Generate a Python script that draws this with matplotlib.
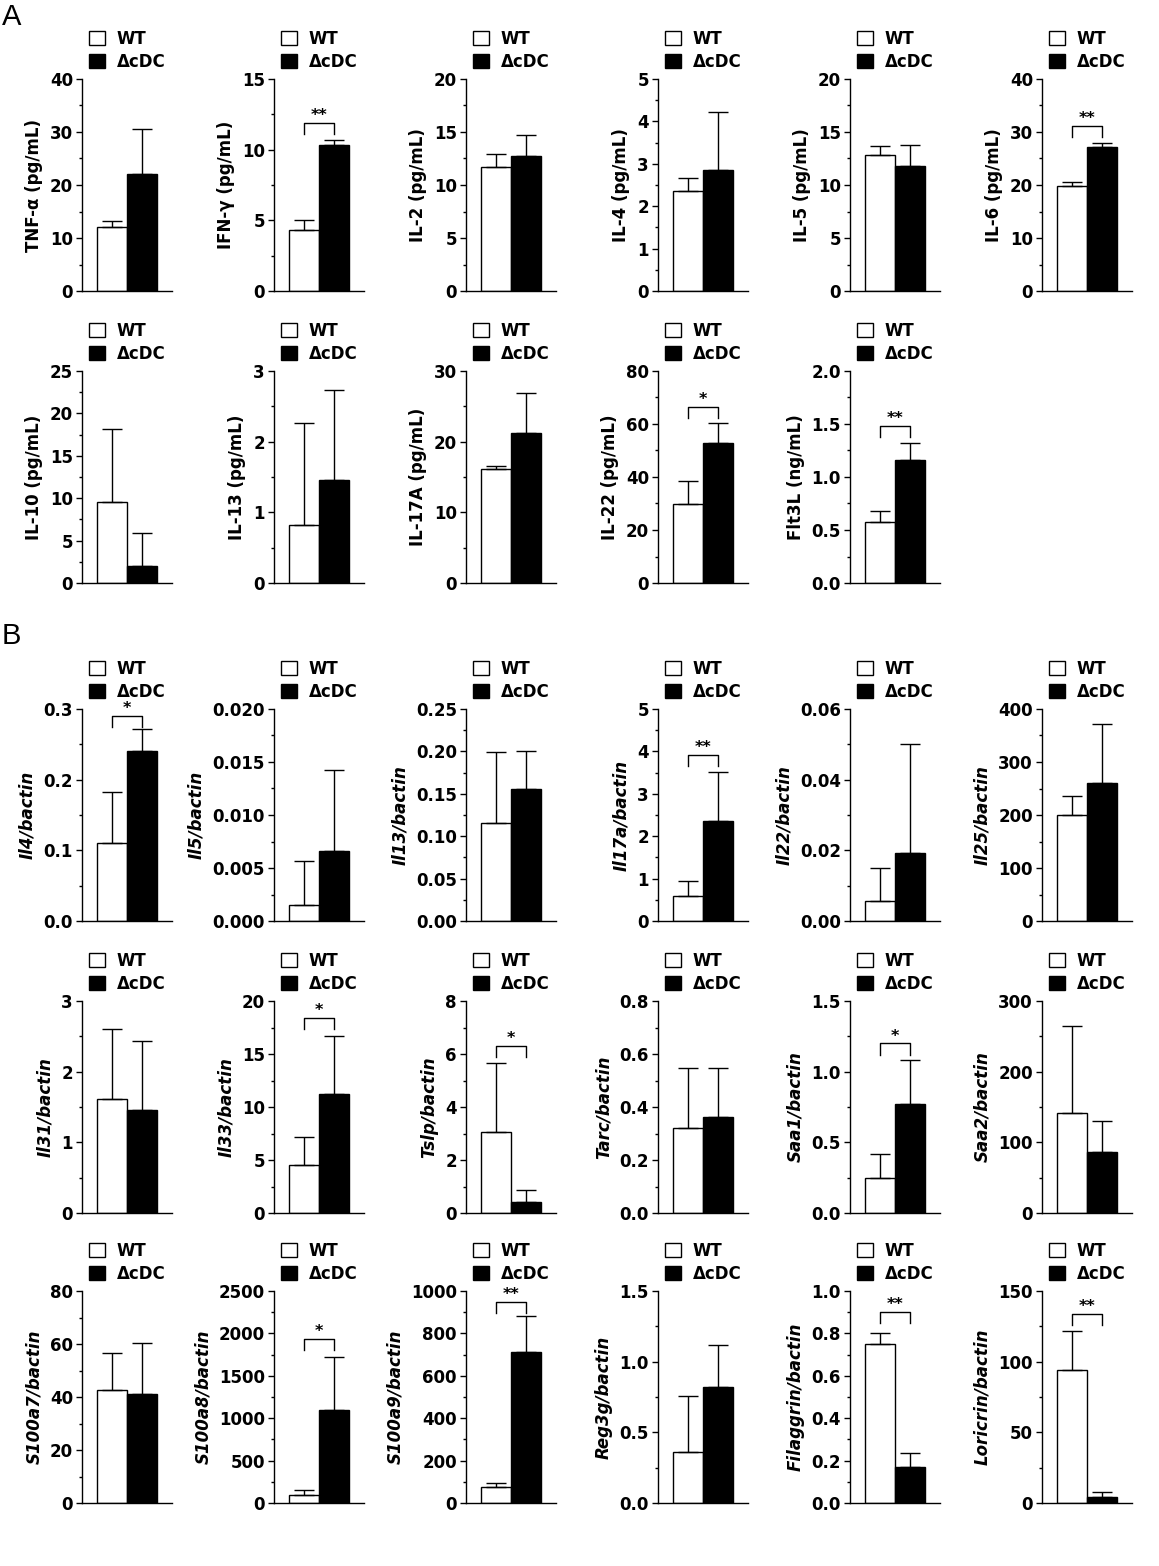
import matplotlib
matplotlib.use("Agg")
import matplotlib.pyplot as plt
from matplotlib.ticker import MultipleLocator, AutoMinorLocator, FormatStrFormatter

plt.rcParams['font.family'] = ['DejaVu Sans']
plt.rcParams['font.weight'] = 'bold'
plt.rcParams['axes.labelweight'] = 'bold'

groups = ["WT", "ΔcDC"]

# ---- A: cytokine protein levels ----
a_labels = ["TNF-α (pg/mL)", "IFN-γ (pg/mL)", "IL-2 (pg/mL)", "IL-4 (pg/mL)",
            "IL-5 (pg/mL)", "IL-6 (pg/mL)", "IL-10 (pg/mL)", "IL-13 (pg/mL)",
            "IL-17A (pg/mL)", "IL-22 (pg/mL)", "Flt3L (ng/mL)"]
a_wt = [12.0, 4.3, 11.7, 2.37, 12.8, 19.8, 9.5, 0.82, 16.1, 29.7, 0.58]
a_wt_sd = [1.3, 0.7, 1.2, 0.30, 0.9, 0.8, 8.7, 1.45, 0.5, 8.9, 0.10]
a_cdc = [22.0, 10.3, 12.7, 2.85, 11.8, 27.2, 2.0, 1.46, 21.2, 53.0, 1.16]
a_cdc_sd = [8.5, 0.4, 2.0, 1.37, 2.0, 0.7, 3.9, 1.27, 5.7, 7.3, 0.16]
a_ymax = [40, 15, 20, 5, 20, 40, 25, 3, 30, 80, 2.0]
a_step = [10, 5, 5, 1, 5, 10, 5, 1, 10, 20, 0.5]
a_fmt = ["%d"] * 10 + ["%.1f"]
a_sig = [None, "**", None, None, None, "**", None, None, None, "*", "**"]
a_sig_y = [None, 11.9, None, None, None, 31.2, None, None, None, 66.5, 1.48]

# ---- B: mRNA expression relative to bactin ----
b_labels = ["Il4/bactin", "Il5/bactin", "Il13/bactin", "Il17a/bactin",
            "Il22/bactin", "Il25/bactin", "Il31/bactin", "Il33/bactin",
            "Tslp/bactin", "Tarc/bactin", "Saa1/bactin", "Saa2/bactin",
            "S100a7/bactin", "S100a8/bactin", "S100a9/bactin", "Reg3g/bactin",
            "Filaggrin/bactin", "Loricrin/bactin"]
b_wt = [0.110, 0.0015, 0.116, 0.58, 0.0057, 200, 1.62, 4.5, 3.05, 0.32, 0.25,
        142, 42.5, 100, 75, 0.36, 0.75, 94]
b_wt_sd = [0.072, 0.0042, 0.083, 0.36, 0.0093, 36, 0.98, 2.7, 2.6, 0.226,
           0.17, 123, 14, 55, 20, 0.40, 0.05, 28]
b_cdc = [0.240, 0.0066, 0.156, 2.36, 0.0193, 260, 1.46, 11.2, 0.4, 0.362,
         0.77, 87, 41, 1100, 710, 0.82, 0.17, 4]
b_cdc_sd = [0.031, 0.0076, 0.045, 1.16, 0.0307, 111, 0.98, 5.5, 0.45, 0.184,
            0.31, 43, 19.5, 620, 170, 0.30, 0.065, 4]
b_ymax = [0.3, 0.020, 0.25, 5, 0.06, 400, 3, 20, 8, 0.8, 1.5, 300,
          80, 2500, 1000, 1.5, 1.0, 150]
b_step = [0.1, 0.005, 0.05, 1, 0.02, 100, 1, 5, 2, 0.2, 0.5, 100,
          20, 500, 200, 0.5, 0.2, 50]
b_fmt = ["%.1f", "%.3f", "%.2f", "%d", "%.2f", "%d", "%d", "%d", "%d", "%.1f",
         "%.1f", "%d", "%d", "%d", "%d", "%.1f", "%.1f", "%d"]
b_sig = ["*", None, None, "**", None, None, None, "*", "*", None, "*", None,
         None, "*", "**", None, "**", "**"]
b_sig_y = [0.290, None, None, 3.92, None, None, None, 18.4, 6.3, None, 1.20,
           None, None, 1934, 948, None, 0.90, 134]

W, H = 1159, 1566
FS = 12


def draw_panel(ax, label, wt, wt_sd, cdc, cdc_sd, ymax, step, fmt, sig, sig_y, italic):
    err_kw = dict(ecolor="black", elinewidth=1.0, capsize=7, capthick=1.0)
    ax.bar(1, wt, width=1.0, color="white", edgecolor="black", linewidth=1.0,
           yerr=[[0], [wt_sd]], error_kw=err_kw, label=groups[0])
    ax.bar(2, cdc, width=1.0, color="black", edgecolor="black", linewidth=1.0,
           yerr=[[0], [cdc_sd]], error_kw=err_kw, label=groups[1])

    ax.set_xlim(0, 3)
    ax.set_ylim(0, ymax)
    ax.yaxis.set_major_locator(MultipleLocator(step))
    ax.yaxis.set_minor_locator(AutoMinorLocator(2))
    ax.yaxis.set_major_formatter(FormatStrFormatter(fmt))
    ax.tick_params(axis="x", bottom=False, labelbottom=False)
    ax.tick_params(axis="y", which="major", direction="out", length=4.5,
                   width=1.0, pad=2, labelsize=FS)
    ax.tick_params(axis="y", which="minor", direction="out", length=2.5, width=1.0)
    for s in ["top", "right"]:
        ax.spines[s].set_visible(False)
    for s in ["left", "bottom"]:
        ax.spines[s].set_linewidth(1.0)
    ax.set_ylabel(label, fontsize=FS, labelpad=5,
                  fontstyle="italic" if italic else "normal")

    if sig:
        drop = 0.053 * ymax
        ax.plot([1, 1, 2, 2], [sig_y - drop, sig_y, sig_y, sig_y - drop],
                color="black", lw=1.0, clip_on=False)
        ax.annotate(sig, xy=(1.5, sig_y), xytext=(0, 2), textcoords="offset points",
                    ha="center", va="baseline", fontsize=11.5, fontweight="bold")

    ax.legend(loc="lower left", bbox_to_anchor=(0.078, 1.04), frameon=False,
              borderpad=0, borderaxespad=0, handlelength=0.95, handleheight=0.9,
              handletextpad=0.72, labelspacing=0.28,
              prop={"size": FS, "weight": "bold"})


fig = plt.figure(figsize=(W / 100, H / 100), dpi=100)

col_x = [82 + 192 * c for c in range(6)]
row_zero = [291, 583, 921, 1213, 1503]
ax_w, ax_h = 90, 212


def make_axes(row, col):
    return fig.add_axes([col_x[col] / W, 1 - row_zero[row] / H, ax_w / W, ax_h / H])


for i in range(len(a_labels)):
    ax = make_axes(i // 6, i % 6)
    draw_panel(ax, a_labels[i], a_wt[i], a_wt_sd[i], a_cdc[i], a_cdc_sd[i],
               a_ymax[i], a_step[i], a_fmt[i], a_sig[i], a_sig_y[i], False)

for i in range(len(b_labels)):
    ax = make_axes(2 + i // 6, i % 6)
    draw_panel(ax, b_labels[i], b_wt[i], b_wt_sd[i], b_cdc[i], b_cdc_sd[i],
               b_ymax[i], b_step[i], b_fmt[i], b_sig[i], b_sig_y[i], True)

fig.text(2 / W, 1 - 3 / H, "A", fontsize=21, fontweight="normal", va="top",
         ha="left", family="Liberation Sans")
fig.text(2 / W, 1 - 622 / H, "B", fontsize=21, fontweight="normal", va="top",
         ha="left", family="Liberation Sans")

fig.savefig("out.png", dpi=100)
